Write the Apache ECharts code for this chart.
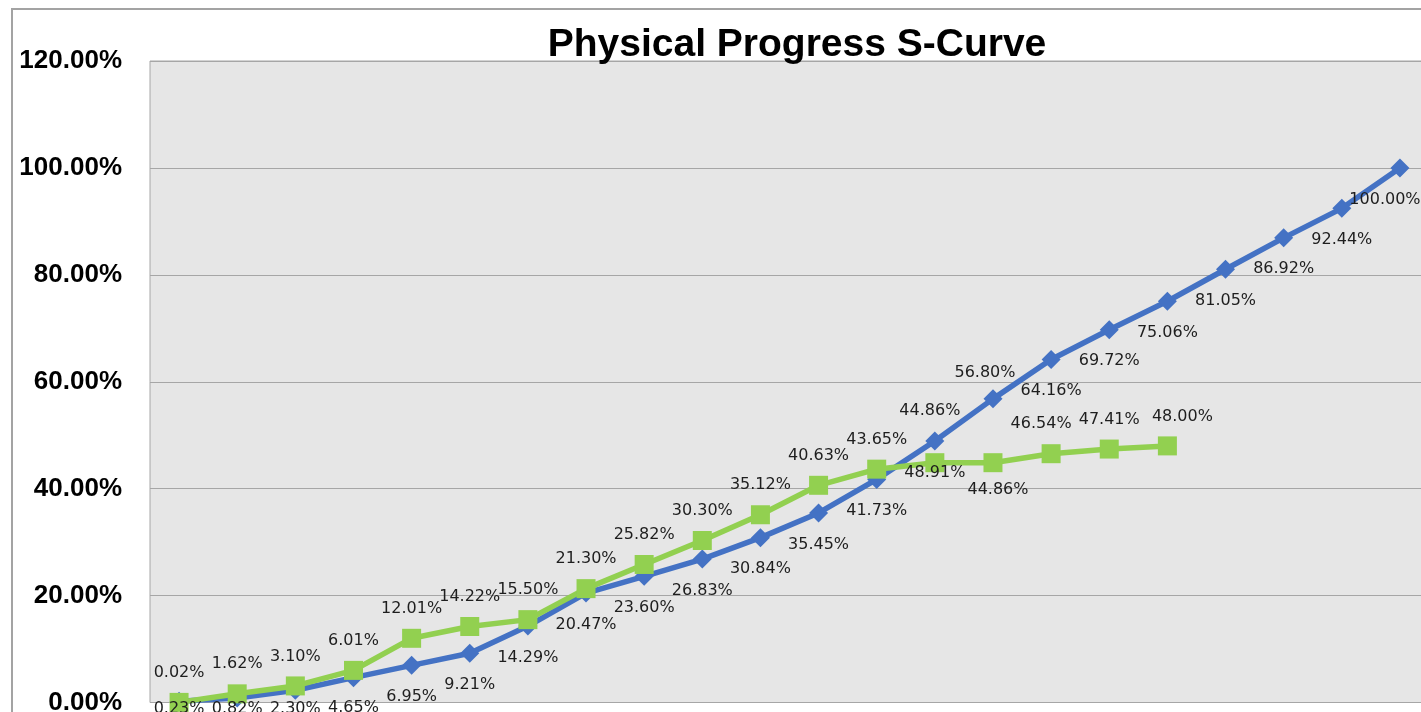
<!DOCTYPE html>
<html><head><meta charset="utf-8">
<script src="https://cdn.jsdelivr.net/npm/echarts/dist/echarts.min.js"></script>
<style>html,body{margin:0;padding:0;background:#fff;overflow:hidden}#c{width:1421px;height:712px}</style>
</head><body><div id="c"></div>
<script>
const titleText = 'Physical Progress S-Curve';
const categories = ['1','2','3','4','5','6','7','8','9','10','11','12','13','14','15','16','17','18','19','20','21','22'];
const plannedValues = [0.23, 0.82, 2.30, 4.65, 6.95, 9.21, 14.29, 20.47, 23.60, 26.83, 30.84, 35.45, 41.73, 48.91, 56.80, 64.16, 69.72, 75.06, 81.05, 86.92, 92.44, 100.00];
const actualValues = [0.02, 1.62, 3.10, 6.01, 12.01, 14.22, 15.50, 21.30, 25.82, 30.30, 35.12, 40.63, 43.65, 44.86, 44.86, 46.54, 47.41, 48.00];
const yMin = 0, yMax = 120, yStep = 20;

// label nudges (styling, as in the original chart)
const plannedLabelNudges = {
  0: {offset: [0, -24]}, 1: {offset: [0, -21]}, 2: {offset: [0, -13]}, 3: {offset: [0, -1]},
  14: {position: 'top', distance: 9, offset: [-8, 0]}, 21: {offset: [-15, 0]}
};
const actualLabelNudges = {13: {distance: 34, offset: [-5, 0]}, 14: {position: 'bottom', distance: 10, offset: [5, 0]}, 15: {offset: [-10, 0]}, 17: {offset: [15, 0]}};

const pct = v => v.toFixed(2) + '%';
const withNudges = (vals, nudges) => vals.map((v, i) => nudges[i] ? {value: v, label: nudges[i]} : v);

const labelFont = {fontFamily: 'DejaVu Sans', fontSize: 16, color: '#1e1e1e'};

const chart = echarts.init(document.getElementById('c'), null, {renderer: 'canvas'});
chart.setOption({
  animation: false,
  backgroundColor: '#fff',
  graphic: [
    {type: 'rect', z: 0, silent: true, shape: {x: 12, y: 9, width: 1500, height: 800},
     style: {fill: 'none', stroke: '#a3a3a3', lineWidth: 2}},
    {type: 'text', z: 100, silent: true, x: 797, y: 45,
     style: {text: titleText, fontFamily: 'Liberation Sans', fontWeight: 'bold', fontSize: 39,
             fill: '#000', textAlign: 'center', textVerticalAlign: 'middle'}}
  ],
  grid: {left: 150, top: 61, width: 1279, height: 641.5, show: true, backgroundColor: '#e6e6e6',
         borderColor: '#a6a6a6', borderWidth: 1, containLabel: false, outerBoundsMode: 'none'},
  xAxis: {type: 'category', data: categories, boundaryGap: true,
          axisLine: {show: false}, axisTick: {show: false}, axisLabel: {show: false}, splitLine: {show: false}},
  yAxis: {type: 'value', min: yMin, max: yMax, interval: yStep,
          axisLine: {show: false}, axisTick: {show: false},
          axisLabel: {formatter: v => pct(v), fontFamily: 'Liberation Sans', fontWeight: 'bold',
                      fontSize: 26, color: '#000', margin: 28},
          splitLine: {lineStyle: {color: '#a6a6a6', width: 1}}},
  series: [
    {name: 'Planned', type: 'line', data: withNudges(plannedValues, plannedLabelNudges),
     symbol: 'diamond', symbolSize: 19, clip: false,
     lineStyle: {color: '#4472C4', width: 5.5}, itemStyle: {color: '#4472C4'},
     label: Object.assign({show: true, position: 'bottom', distance: 14, formatter: p => pct(p.value)}, labelFont)},
    {name: 'Actual', type: 'line', data: withNudges(actualValues, actualLabelNudges),
     symbol: 'rect', symbolSize: 19, clip: false,
     lineStyle: {color: '#92D050', width: 5.5}, itemStyle: {color: '#92D050'},
     label: Object.assign({show: true, position: 'top', distance: 12, formatter: p => pct(p.value)}, labelFont)}
  ]
});
</script></body></html>
